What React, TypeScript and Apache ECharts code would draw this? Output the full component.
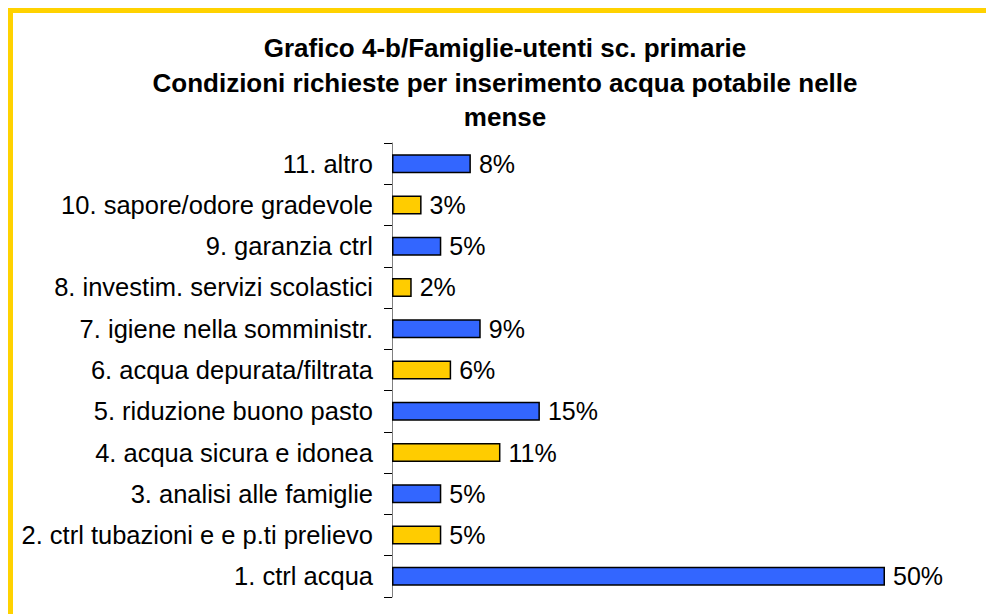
import React, { useEffect, useRef } from "react";
import * as echarts from "echarts";

const titleLines = [
  "Grafico 4-b/Famiglie-utenti sc. primarie",
  "Condizioni richieste per inserimento acqua potabile nelle",
  "mense",
];
const categories = [
  "1. ctrl acqua",
  "2. ctrl tubazioni e e p.ti prelievo",
  "3. analisi alle famiglie",
  "4. acqua sicura e idonea",
  "5. riduzione buono pasto",
  "6. acqua depurata/filtrata",
  "7. igiene nella somministr.",
  "8. investim. servizi scolastici",
  "9. garanzia ctrl",
  "10. sapore/odore gradevole",
  "11. altro",
];
const values = [50, 5, 5, 11, 15, 6, 9, 2, 5, 3, 8];
const BLUE = "#3366FF";
const YELLOW = "#FFCC00";
const FONT = "Arial";

export default function App() {
  const ref = useRef<HTMLDivElement>(null);
  useEffect(() => {
    if (!ref.current) return;
    document.documentElement.style.overflow = "hidden";
    const chart = echarts.init(ref.current, null, { renderer: "svg" });
    chart.setOption({
      animation: false,
      backgroundColor: "#ffffff",
      textStyle: { fontFamily: FONT },
      title: {
        text: titleLines.join("\n"),
        left: 492,
        textAlign: "center",
        top: 18,
        textStyle: {
          fontSize: 26,
          fontWeight: "bold",
          color: "#000",
          lineHeight: 34.5,
          fontFamily: FONT,
        },
      },
      graphic: [
        {
          type: "rect",
          shape: { x: 2.5, y: 2.5, width: 2000, height: 2000 },
          style: { fill: "none", stroke: "#FFD200", lineWidth: 5 },
          silent: true,
          z: 100,
        },
      ],
      grid: { left: 384, right: 101, top: 135, bottom: 25 },
      xAxis: { type: "value", min: 0, max: 50, show: false },
      yAxis: {
        type: "category",
        data: categories,
        axisLine: { show: true, lineStyle: { color: "#808080", width: 1 } },
        axisTick: { show: true, length: 8, lineStyle: { color: "#000" } },
        axisLabel: {
          color: "#000",
          fontSize: 25.5,
          margin: 19,
          fontFamily: FONT,
        },
      },
      series: [
        {
          type: "bar",
          barWidth: 19,
          data: values.map((v, i) => ({
            value: v,
            itemStyle: { color: i % 2 === 0 ? BLUE : YELLOW },
          })),
          itemStyle: { borderColor: "#000", borderWidth: 1.5 },
          label: {
            show: true,
            position: "right",
            distance: 8,
            color: "#000",
            fontSize: 25,
            fontFamily: FONT,
            formatter: (p: any) => `${p.value}%`,
          },
        },
      ],
    });
    return () => chart.dispose();
  }, []);
  return (
    <div
      ref={ref}
      style={{ position: "fixed", left: 8, top: 8, width: 978, height: 614 }}
    />
  );
}
